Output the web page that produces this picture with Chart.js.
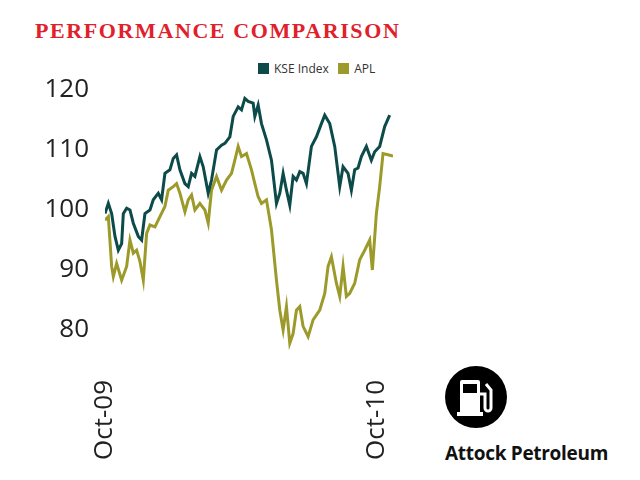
<!DOCTYPE html>
<html><head><meta charset="utf-8">
<script src="https://cdn.jsdelivr.net/npm/chart.js@4"></script>
<style>
body{margin:0;width:640px;height:480px;background:#fff;position:relative;overflow:hidden;font-family:"Open Sans",sans-serif}
#title{position:absolute;left:35px;top:18px;font-family:"Liberation Serif",serif;font-weight:bold;color:#e0202a;font-size:22px;letter-spacing:1.6px;white-space:nowrap}
#leg{position:absolute;left:258px;top:60px;font-size:12px;color:#333}
#leg span.b{display:inline-block;width:11px;height:11px;vertical-align:-1px;margin-right:5px}
#brand{position:absolute;left:445px;top:440px;font-weight:bold;font-size:19px;color:#111;letter-spacing:-0.3px}
canvas{position:absolute;left:0;top:0}
</style></head><body>
<div id="title">PERFORMANCE COMPARISON</div>
<div id="leg"><span class="b" style="background:#0d4a4a"></span>KSE Index &nbsp; <span class="b" style="background:#9c9a2a"></span>APL</div>
<svg style="position:absolute;left:445px;top:366px" width="62" height="62" viewBox="0 0 62 62">
<circle cx="31" cy="31" r="31" fill="#000"/>
<rect x="15" y="14" width="20" height="34" rx="2" fill="#fff"/>
<rect x="18" y="18" width="14" height="9" fill="#000"/>
<rect x="12" y="46" width="26" height="4" fill="#fff"/>
<path d="M35 28 h5 v14 a3 3 0 0 0 6 0 v-18 l-5 -6" stroke="#fff" stroke-width="3" fill="none"/>
</svg>
<div id="brand">Attock Petroleum</div>
<canvas id="c" width="430" height="480"></canvas>
<script>
const kseX=[45,55,65,75,85,95,100,110,120,130,145,155,165,180,190,205,215,225,240,250,260,270,285,295,305,315,330,340,355,365,380,395,405,420,430,445,455,465,475,490,495,505,515,530,545,560,570,580,590,600,610,620,630,640,650,665,680,695,705,720,735,750,760,775,785,795,805,815,830,845,855,870,885,900];
const kseY=[99.4,101.1,99.4,95.6,93.3,94.4,99.4,100.3,100.0,97.8,95.6,95.0,99.4,100.0,101.7,102.8,101.7,106.1,106.7,108.6,109.2,106.7,104.4,103.9,106.1,105.6,108.9,107.2,102.8,105.0,110.0,110.8,111.1,112.2,115.6,117.2,116.7,118.6,118.1,117.8,115.6,117.5,114.4,111.7,108.3,101.1,102.8,106.1,103.3,100.8,105.6,105.0,106.4,106.1,104.4,110.6,112.2,114.4,115.8,114.4,110.6,103.9,107.2,106.1,103.3,106.7,107.0,108.9,110.6,108.3,109.7,110.6,113.9,115.8];
const aplX=[45,55,65,70,80,95,110,120,130,140,150,160,170,180,195,210,225,235,250,260,270,285,295,305,315,330,345,355,365,380,395,410,425,435,445,455,470,485,495,505,515,530,545,560,570,580,590,600,610,620,630,640,655,670,690,705,715,725,740,750,760,770,780,795,810,825,840,848,860,870,880,895,910];
const aplY=[98.3,98.9,90.6,88.9,91.1,88.3,90.6,95.0,92.8,93.3,91.4,88.3,96.1,97.5,97.2,98.9,100.6,103.3,103.9,104.4,102.8,99.7,101.7,102.5,100.0,101.1,100.0,97.8,103.3,105.6,103.3,105.0,106.1,108.3,110.6,108.9,109.4,106.7,104.4,102.2,101.1,101.7,96.7,88.3,83.3,80.0,83.9,77.8,79.4,83.3,83.9,80.6,78.9,81.7,83.3,86.1,90.6,92.2,87.8,85.6,90.6,85.6,86.1,87.8,91.7,93.3,95.0,90.0,99.4,103.9,109.4,109.2,109.0];
const yTicks=[80,90,100,110,120];
const xTicks=[{v:45,l:'Oct-09'},{v:860,l:'Oct-10'}];
const pts=(xs,ys)=>xs.map((x,i)=>({x:x,y:ys[i]}));
new Chart(document.getElementById('c'),{
 type:'line',
 data:{datasets:[
  {label:'KSE Index',data:pts(kseX,kseY),borderColor:'#0d4a4a',borderWidth:3,pointRadius:0,tension:0},
  {label:'APL',data:pts(aplX,aplY),borderColor:'#9c9a2a',borderWidth:3,pointRadius:0,tension:0}]},
 options:{responsive:false,animation:false,
  layout:{padding:{top:78,right:37,left:0,bottom:0}},
  plugins:{legend:{display:false},tooltip:{enabled:false}},
  scales:{
   x:{type:'linear',min:45,max:910,grid:{display:false},border:{display:false},
      afterBuildTicks:s=>{s.ticks=xTicks.map(t=>({value:t.v}));},
      afterFit:s=>{s.height=126;},
      ticks:{maxRotation:90,minRotation:90,color:'#222',font:{size:26,family:'Open Sans'},padding:18,
        callback:v=>{const t=xTicks.find(t=>t.v===v);return t?t.l:'';}}},
   y:{min:76,max:122,grid:{display:false},border:{display:false},
      afterBuildTicks:s=>{s.ticks=yTicks.map(v=>({value:v}));},
      afterFit:s=>{s.width=105;},
      ticks:{color:'#222',font:{size:26,family:'Open Sans'},padding:8}}
  }}
});
</script></body></html>
